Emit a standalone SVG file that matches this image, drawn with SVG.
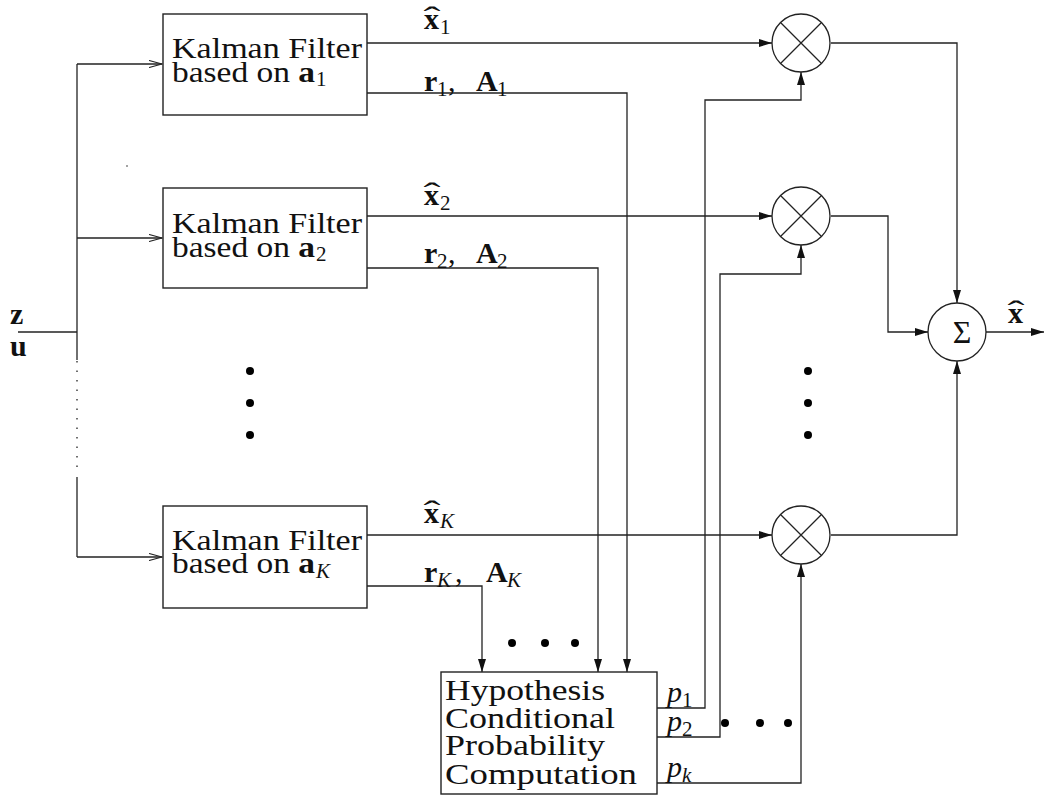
<svg xmlns="http://www.w3.org/2000/svg" width="1044" height="797" viewBox="0 0 1044 797">
<style>
.box{fill:#fff;stroke:#222;stroke-width:1.4}
.ln{fill:none;stroke:#222;stroke-width:1.3}
.t{font-family:'Liberation Serif',serif;font-size:30px;fill:#111}
.s{font-family:'Liberation Serif',serif;font-size:21px;fill:#111}
.h{font-family:'Liberation Serif',serif;font-size:30px;fill:#111;text-anchor:middle}
.b{font-weight:bold}
.i{font-style:italic}
.dot{fill:#000}
</style>
<defs>
<marker id="fa" viewBox="0 0 13 8" refX="13" refY="4" markerWidth="13" markerHeight="8" markerUnits="userSpaceOnUse" orient="auto">
<path d="M0,0 L13,4 L0,8 Z" fill="#111"/>
</marker>
<marker id="oa" viewBox="0 0 14 8" refX="13" refY="4" markerWidth="14" markerHeight="8" markerUnits="userSpaceOnUse" orient="auto">
<path d="M0,0.5 L13,4 L0,7.5" fill="none" stroke="#222" stroke-width="1.2"/>
</marker>
</defs>
<rect width="1044" height="797" fill="#fff"/>

<g id="connectors">
<path class="ln" d="M18,332 H77"/>
<path class="ln" d="M77,64 V360"/>
<path class="ln" d="M77,361 V473" stroke-dasharray="1.5,8"/>
<path class="ln" d="M77,477 V557"/>
<path class="ln" d="M77,64 H162" marker-end="url(#oa)"/>
<path class="ln" d="M77,238 H162" marker-end="url(#oa)"/>
<path class="ln" d="M77,557 H162" marker-end="url(#oa)"/>
<path class="ln" d="M367,43 H772" marker-end="url(#fa)"/>
<path class="ln" d="M367,216 H772" marker-end="url(#fa)"/>
<path class="ln" d="M367,535 H772" marker-end="url(#fa)"/>
<path class="ln" d="M367,93 H627 V672" marker-end="url(#fa)"/>
<path class="ln" d="M367,268 H598 V672" marker-end="url(#fa)"/>
<path class="ln" d="M367,586 H482 V672" marker-end="url(#fa)"/>
<path class="ln" d="M657,708 H705 V100 H801 V72" marker-end="url(#fa)"/>
<path class="ln" d="M657,737 H720 V274 H801 V245" marker-end="url(#fa)"/>
<path class="ln" d="M657,783 H801 V564" marker-end="url(#fa)"/>
<path class="ln" d="M831,43 H957 V303" marker-end="url(#fa)"/>
<path class="ln" d="M831,216 H888 V332 H928" marker-end="url(#fa)"/>
<path class="ln" d="M831,535 H957 V361" marker-end="url(#fa)"/>
<path class="ln" d="M986,332 H1044" marker-end="url(#fa)"/>
</g>

<g id="input-labels">
<text class="t b" x="10" y="324">z</text>
<text class="t b" x="10" y="356">u</text>
</g>

<g id="kf1">
<rect class="box" x="163" y="14" width="204" height="101"/>
<text class="t" x="172" y="58" textLength="190" lengthAdjust="spacingAndGlyphs">Kalman Filter</text>
<text class="t" x="172" y="82" textLength="143" lengthAdjust="spacingAndGlyphs">based on <tspan class="b">a</tspan></text>
<text class="s" x="316" y="86">1</text>
</g>
<g id="kf2">
<rect class="box" x="163" y="188" width="204" height="100"/>
<text class="t" x="172" y="233" textLength="190" lengthAdjust="spacingAndGlyphs">Kalman Filter</text>
<text class="t" x="172" y="257" textLength="143" lengthAdjust="spacingAndGlyphs">based on <tspan class="b">a</tspan></text>
<text class="s" x="316" y="261">2</text>
</g>
<g id="kfK">
<rect class="box" x="163" y="506" width="204" height="102"/>
<text class="t" x="172" y="550" textLength="190" lengthAdjust="spacingAndGlyphs">Kalman Filter</text>
<text class="t" x="172" y="573" textLength="143" lengthAdjust="spacingAndGlyphs">based on <tspan class="b">a</tspan></text>
<text class="s i" x="316" y="578">K</text>
</g>

<g id="edge-labels">
<text class="t b" x="424" y="29">x</text><text class="s" x="440" y="34">1</text>
<text class="h" transform="translate(432,27) scale(1.7,1)">ˆ</text>
<text class="t b" x="424" y="91">r</text><text class="s" x="437" y="96">1</text><text class="t" x="448" y="91">,</text>
<text class="t b" x="476" y="91">A</text><text class="s" x="497" y="96">1</text>

<text class="t b" x="424" y="205">x</text><text class="s" x="440" y="210">2</text>
<text class="h" transform="translate(432,203) scale(1.7,1)">ˆ</text>
<text class="t b" x="424" y="263">r</text><text class="s" x="437" y="268">2</text><text class="t" x="448" y="263">,</text>
<text class="t b" x="476" y="263">A</text><text class="s" x="497" y="268">2</text>

<text class="t b" x="424" y="523">x</text><text class="s i" x="440" y="528">K</text>
<text class="h" transform="translate(432,521) scale(1.7,1)">ˆ</text>
<text class="t b" x="424" y="582">r</text><text class="s i" x="437" y="587">K</text><text class="t" x="455" y="582">,</text>
<text class="t b" x="486" y="582">A</text><text class="s i" x="507" y="587">K</text>

<text class="t i" x="667" y="702">p</text><text class="s" x="682" y="707">1</text>
<text class="t i" x="667" y="731">p</text><text class="s" x="682" y="736">2</text>
<text class="t i" x="667" y="777">p</text><text class="s i" x="682" y="782">k</text>

<text class="t b" x="1008" y="323">x</text>
<text class="h" transform="translate(1016,321) scale(1.7,1)">ˆ</text>
</g>

<g id="mult1">
<circle class="ln" cx="801" cy="43" r="29"/>
<path class="ln" d="M780.5,22.5 L821.5,63.5 M821.5,22.5 L780.5,63.5"/>
</g>
<g id="mult2">
<circle class="ln" cx="801" cy="216" r="29"/>
<path class="ln" d="M780.5,195.5 L821.5,236.5 M821.5,195.5 L780.5,236.5"/>
</g>
<g id="multK">
<circle class="ln" cx="801" cy="535" r="29"/>
<path class="ln" d="M780.5,514.5 L821.5,555.5 M821.5,514.5 L780.5,555.5"/>
</g>
<g id="sum">
<circle class="ln" cx="957" cy="332" r="29"/>
<text class="t" x="962" y="343" style="font-size:32px;text-anchor:middle">Σ</text>
</g>

<g id="hyp">
<rect class="box" x="441" y="672" width="216" height="122"/>
<text class="t" x="445" y="700" textLength="160" lengthAdjust="spacingAndGlyphs">Hypothesis</text>
<text class="t" x="445" y="728" textLength="170" lengthAdjust="spacingAndGlyphs">Conditional</text>
<text class="t" x="445" y="755" textLength="160" lengthAdjust="spacingAndGlyphs">Probability</text>
<text class="t" x="445" y="784" textLength="192" lengthAdjust="spacingAndGlyphs">Computation</text>
</g>

<g id="ellipses">
<circle class="dot" cx="250" cy="371" r="4"/>
<circle class="dot" cx="250" cy="403" r="4"/>
<circle class="dot" cx="250" cy="435" r="4"/>
<circle class="dot" cx="808" cy="371" r="4"/>
<circle class="dot" cx="808" cy="403" r="4"/>
<circle class="dot" cx="808" cy="435" r="4"/>
<circle class="dot" cx="512" cy="643" r="4"/>
<circle class="dot" cx="545" cy="643" r="4"/>
<circle class="dot" cx="575" cy="643" r="4"/>
<circle class="dot" cx="725" cy="723" r="4"/>
<circle class="dot" cx="760" cy="723" r="4"/>
<circle class="dot" cx="788" cy="723" r="4"/>
<circle class="dot" cx="127" cy="166" r="0.7"/>
</g>
</svg>
